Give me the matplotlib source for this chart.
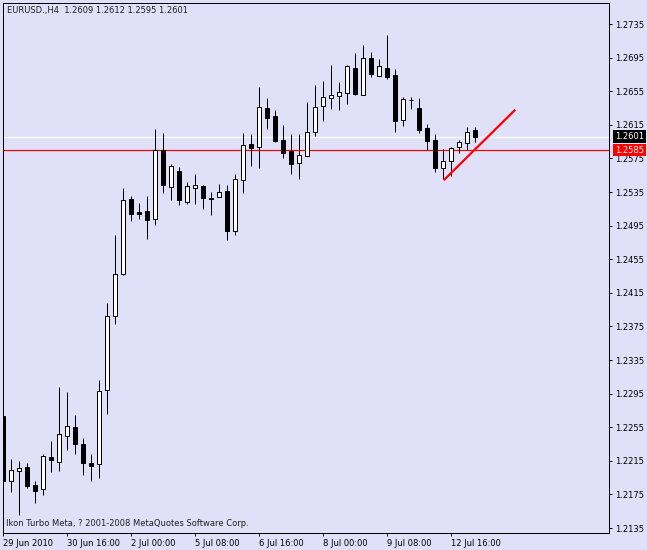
import matplotlib
matplotlib.use("Agg")
import numpy as np
import matplotlib.pyplot as plt
import matplotlib.transforms as mtransforms

# --- data (EURUSD H4, 29 Jun .. 13 Jul 2010) ---
symbol = "EURUSD.,H4"
opens = [1.2268, 1.2191, 1.2203, 1.2208, 1.2186, 1.2181, 1.2219, 1.2214, 1.2245, 1.2255,
         1.2235, 1.2212, 1.2211, 1.2299, 1.2387, 1.2437, 1.2527, 1.2511, 1.2512, 1.2503,
         1.2585, 1.2541, 1.2560, 1.2523, 1.2540, 1.2542, 1.2528, 1.2529, 1.2536, 1.2489,
         1.2549, 1.2592, 1.2588, 1.2635, 1.2625, 1.2597, 1.2584, 1.2570, 1.2578, 1.2606,
         1.2637, 1.2647, 1.2649, 1.2653, 1.2683, 1.2651, 1.2695, 1.2673, 1.2683, 1.2674,
         1.2621, 1.2645, 1.2635, 1.2611, 1.2597, 1.2564, 1.2572, 1.2589, 1.2593, 1.2609]
highs = [1.2268, 1.2217, 1.2215, 1.2212, 1.2191, 1.2223, 1.2239, 1.2303, 1.2297, 1.2270,
         1.2242, 1.2223, 1.2311, 1.2403, 1.2484, 1.2540, 1.2530, 1.2522, 1.2530, 1.2610,
         1.2605, 1.2568, 1.2565, 1.2547, 1.2556, 1.2543, 1.2535, 1.2545, 1.2543, 1.2556,
         1.2605, 1.2604, 1.2660, 1.2647, 1.2633, 1.2615, 1.2604, 1.2604, 1.2642, 1.2662,
         1.2667, 1.2686, 1.2666, 1.2686, 1.2700, 1.2710, 1.2702, 1.2693, 1.2722, 1.2682,
         1.2648, 1.2648, 1.2647, 1.2616, 1.2604, 1.2586, 1.2589, 1.2597, 1.2612, 1.2612]
lows = [1.2174, 1.2178, 1.2150, 1.2183, 1.2165, 1.2174, 1.2202, 1.2203, 1.2228, 1.2223,
        1.2198, 1.2191, 1.2194, 1.2271, 1.2378, 1.2436, 1.2500, 1.2503, 1.2479, 1.2496,
        1.2534, 1.2526, 1.2520, 1.2521, 1.2521, 1.2515, 1.2508, 1.2529, 1.2478, 1.2484,
        1.2534, 1.2566, 1.2564, 1.2610, 1.2595, 1.2575, 1.2556, 1.2551, 1.2578, 1.2602,
        1.2619, 1.2634, 1.2633, 1.2640, 1.2651, 1.2651, 1.2672, 1.2673, 1.2669, 1.2607,
        1.2613, 1.2634, 1.2605, 1.2585, 1.2559, 1.2550, 1.2554, 1.2581, 1.2585, 1.2595]
closes = [1.2191, 1.2204, 1.2206, 1.2185, 1.2179, 1.2221, 1.2216, 1.2247, 1.2256, 1.2235,
          1.2213, 1.2209, 1.2298, 1.2388, 1.2437, 1.2525, 1.2509, 1.2509, 1.2502, 1.2585,
          1.2543, 1.2566, 1.2525, 1.2542, 1.2543, 1.2528, 1.2527, 1.2535, 1.2488, 1.2550,
          1.2591, 1.2587, 1.2636, 1.2623, 1.2596, 1.2582, 1.2568, 1.2579, 1.2607, 1.2636,
          1.2648, 1.2650, 1.2654, 1.2685, 1.2652, 1.2694, 1.2675, 1.2685, 1.2672, 1.2620,
          1.2646, 1.2644, 1.2609, 1.2596, 1.2563, 1.2572, 1.2587, 1.2594, 1.2607, 1.2601]

bid = 1.2601
level = 1.2585                      # red horizontal line
trend_x = [55.05, 64.0]             # trend line, in bar numbers
trend_y = [1.2549, 1.2633]

xtick_bars = [0, 8, 16, 24, 32, 40, 48, 56]
xtick_labels = ["29 Jun 2010", "30 Jun 16:00", "2 Jul 00:00", "5 Jul 08:00",
                "6 Jul 16:00", "8 Jul 00:00", "9 Jul 08:00", "12 Jul 16:00"]
yticks = [1.2135, 1.2175, 1.2215, 1.2255, 1.2295, 1.2335, 1.2375, 1.2415,
          1.2455, 1.2495, 1.2535, 1.2575, 1.2615, 1.2655, 1.2695, 1.2735]

footer = "Ikon Turbo Meta, ? 2001-2008 MetaQuotes Software Corp."

# --- drawing ---
bg = "#E0E0F8"
px = 0.72  # one pixel in points at 100 dpi
plt.rcParams["font.family"] = ["DejaVu Sans"]
plt.rcParams["font.size"] = 6

W, H = 647, 550
fig = plt.figure(figsize=(W / 100, H / 100), dpi=100, facecolor=bg)
ax = fig.add_axes([3 / W, 17 / H, 606 / W, 530 / H])
ax.set_facecolor(bg)

o = np.array(opens); c = np.array(closes)
hi = np.array(highs); lo = np.array(lows)
x = np.arange(len(o))
up = c >= o

ax.axhline(level, color="red", lw=px * 1.2, zorder=1)
ax.axhline(bid, color="white", lw=px * 1.2, zorder=1)

ax.vlines(x, lo, hi, color="black", lw=px, zorder=2)
body_bot = np.minimum(o, c)
body_h = np.maximum(np.abs(c - o), 0.00002)
ax.bar(x, body_h, bottom=body_bot, width=0.5,
       color=np.where(up, "white", "black"), edgecolor="black", lw=px, zorder=3)

ax.plot(trend_x, trend_y, color="red", lw=1.6, zorder=4, solid_capstyle="butt")

ax.set_xlim(-0.04, 75.71)
ax.set_ylim(1.21291, 1.2760)

ax.yaxis.tick_right()
ax.set_yticks(yticks)
ax.set_yticklabels([f"{v:.4f}" for v in yticks])
ax.tick_params(axis="y", direction="out", length=2.2, width=px, pad=2.2,
               labelsize=6, colors="black")
ax.set_xticks(xtick_bars)
ax.set_xticklabels(xtick_labels)
ax.tick_params(axis="x", direction="out", length=2.2, width=px, pad=2.2,
               labelsize=6, colors="black")
for lbl in ax.get_xticklabels():
    lbl.set_ha("left")

for s in ax.spines.values():
    s.set_color("black")
    s.set_linewidth(px)

# price tags on the right scale
tr = mtransforms.blended_transform_factory(ax.transAxes, ax.transData)
tag_x = 1 + 6 / 606
ax.text(tag_x, bid, f"{bid:.4f}", transform=tr, color="white", va="center", ha="left",
        fontsize=6, zorder=6, bbox=dict(boxstyle="square,pad=0.22", fc="black", ec="none"))
ax.text(tag_x, level, f"{level:.4f}", transform=tr, color="white", va="center", ha="left",
        fontsize=6, zorder=6, bbox=dict(boxstyle="square,pad=0.22", fc="red", ec="none"))

header = f"{symbol}  {opens[-1]:.4f} {highs[-1]:.4f} {lows[-1]:.4f} {closes[-1]:.4f}"
fig.text(7 / W, 1 - 10 / H, header, va="center", ha="left", fontsize=6, color="#202020")
fig.text(6 / W, 1 - 524 / H, footer, va="center", ha="left", fontsize=6, color="#202020")

fig.savefig("out.png", dpi=100, facecolor=bg)
plt.close(fig)
